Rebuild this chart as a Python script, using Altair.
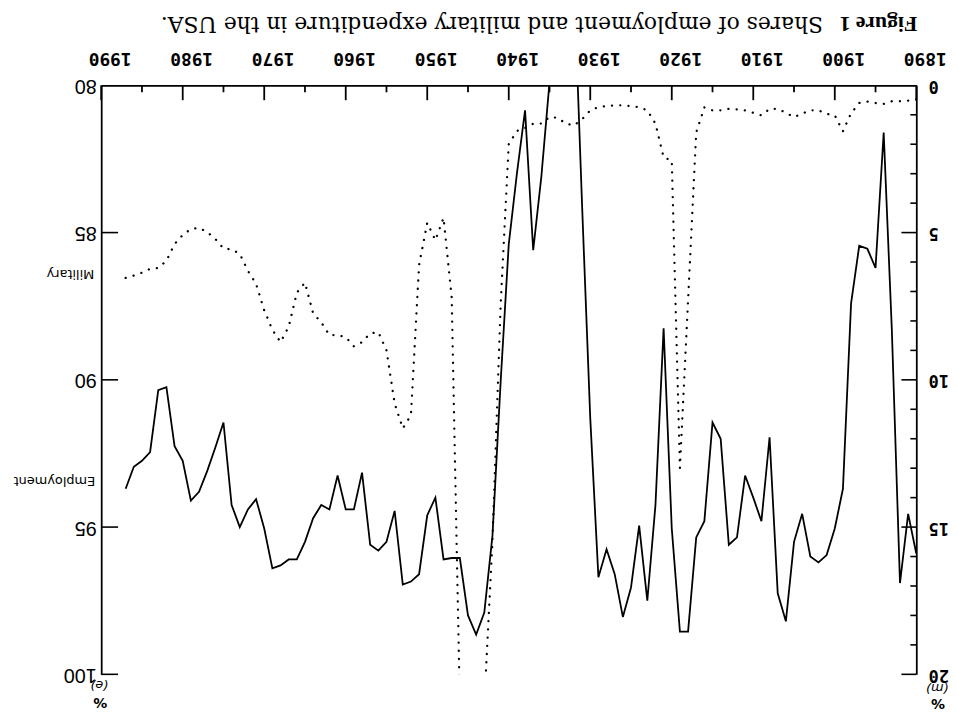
import altair as alt
import pandas as pd

# ---------------- data ----------------
years = list(range(1890, 1988))

employment = [
    95.9, 94.55, 96.9, 88.3, 81.6, 86.2, 85.55, 85.45, 87.4, 93.7,      # 1890-1899
    95.05, 95.95, 96.2, 96.0, 94.55, 95.5, 98.2, 97.25, 91.95, 94.8,    # 1900-1909
    94.0, 93.25, 95.35, 95.6, 92.0, 91.45, 94.8, 95.35, 98.55, 98.55,   # 1910-1919
    95.05, 88.25, 94.25, 97.5, 94.95, 97.05, 98.05, 96.6, 95.75, 96.7,  # 1920-1929
    91.3, 84.1, 76.4, 75.1, 78.3, 79.9, 83.1, 85.6, 80.85, 83.0,        # 1930-1939
    85.4, 90.1, 95.3, 97.9, 98.65, 98.0, 96.05, 96.05, 96.1, 94.0,      # 1940-1949
    94.6, 96.6, 96.85, 96.95, 94.45, 95.5, 95.8, 95.6, 93.15, 94.4,     # 1950-1959
    94.4, 93.25, 94.4, 94.25, 94.7, 95.5, 96.1, 96.1, 96.3, 96.4,       # 1960-1969
    95.05, 94.05, 94.4, 95.0, 94.25, 91.45, 92.3, 93.1, 93.8, 94.1,     # 1970-1979
    92.75, 92.25, 90.25, 90.35, 92.45, 92.75, 92.95, 93.7,              # 1980-1987
]

military = [
    0.48, 0.52, 0.54, 0.54, 0.63, 0.6, 0.55, 0.6, 0.95, 1.56,           # 1890-1899
    1.02, 0.97, 0.85, 0.85, 0.96, 1.08, 0.93, 0.8, 0.8, 1.02,           # 1900-1909
    0.93, 0.85, 0.82, 0.8, 0.85, 0.85, 0.75, 1.6, 7.3, 13.0,            # 1910-1919
    2.55, 2.45, 1.3, 0.85, 0.74, 0.71, 0.68, 0.68, 0.7, 0.74,           # 1920-1929
    0.85, 1.15, 1.36, 1.3, 1.1, 1.08, 1.3, 1.3, 1.45, 1.55,             # 1930-1939
    2.0, 7.5, 15.5, 21.0, 37.0, 37.0, 21.0, 7.2, 4.5, 5.26,             # 1940-1949
    4.67, 6.1, 11.2, 11.65, 10.8, 9.0, 8.38, 8.42, 8.72, 8.86,          # 1950-1959
    8.55, 8.48, 8.48, 8.05, 7.74, 6.7, 7.04, 8.2, 8.72, 8.3,            # 1960-1969
    7.64, 6.74, 6.3, 5.72, 5.57, 5.54, 5.22, 4.98, 4.84, 4.88,          # 1970-1979
    5.08, 5.39, 5.96, 6.2, 6.23, 6.36, 6.46, 6.54,                      # 1980-1987
]

year_labels = list(range(1890, 1991, 10))
year_minor = list(range(1895, 1990, 10))
emp_ticks = [80, 85, 90, 95, 100]
mil_major = [0, 5, 10, 15, 20]
mil_minor = [v for v in range(1, 20) if v % 5 != 0]

title_bold = "Figure 1"
title_rest = "Shares of employment and military expenditure in the USA."

# ---------------- layout ----------------
W, H = 822, 594
INK = "#000000"
MONO = "DejaVu Sans Mono"

df = pd.DataFrame({"year": years, "emp": employment, "mil": military})

x_scale = alt.Scale(domain=[1890, 1990], reverse=True, nice=False, zero=False)
e_scale = alt.Scale(domain=[80, 100], reverse=True, nice=False, zero=False)
m_scale = alt.Scale(domain=[0, 20], reverse=True, nice=False, zero=False)

# year axis: only its line; its (upside-down) labels are drawn as text below
x_axis = alt.Axis(orient="top", values=year_labels, title=None, labels=False,
                  ticks=False, tickSize=0, grid=False, domain=True,
                  domainColor=INK, domainWidth=1.8)

e_axis = alt.Axis(orient="left", values=emp_ticks, format="d", title=None,
                  labelAngle=180, labelAlign="left", labelBaseline="middle",
                  labelPadding=5, labelFlush=False, labelOverlap=False,
                  ticks=False, tickSize=0, grid=False, domain=True,
                  domainColor=INK, domainWidth=1.8, labelFont="Liberation Sans",
                  labelFontSize=20, labelColor=INK)

m_axis = alt.Axis(orient="right", values=mil_major, format="d", title=None,
                  labelAngle=180, labelAlign="right", labelBaseline="middle",
                  labelPadding=12, labelFlush=False, labelOverlap=False,
                  ticks=False, tickSize=0, grid=False, domain=True,
                  domainColor=INK, domainWidth=1.8, labelFont=MONO,
                  labelFontSize=17, labelFontWeight="bold", labelColor=INK)

base = alt.Chart(df)

emp_line = base.mark_line(color=INK, strokeWidth=1.8, clip=True).encode(
    x=alt.X("year:Q", scale=x_scale, axis=x_axis),
    y=alt.Y("emp:Q", scale=e_scale, axis=e_axis),
)

X0 = alt.X("year:Q", scale=x_scale, axis=None)

mil_line = base.mark_line(color=INK, strokeWidth=2.3, strokeDash=[0.1, 8.2],
                          strokeCap="round", clip=True).encode(
    x=X0,
    y=alt.Y("mil:Q", scale=m_scale, axis=m_axis),
)

# upside-down year labels above the top axis
year_text = alt.Chart(pd.DataFrame({"year": year_labels})).mark_text(
    angle=180, font=MONO, fontSize=18, fontWeight="bold", color=INK,
    align="center", baseline="top", dx=-9).encode(
    x=X0, y=alt.value(-19), text=alt.Text("year:Q", format="d"))

# inward ticks on the top axis
top_major = alt.Chart(pd.DataFrame({"year": year_labels})).mark_rule(
    color=INK, strokeWidth=1.8).encode(
    x=X0, y=alt.value(0), y2=alt.value(15))
top_minor = alt.Chart(pd.DataFrame({"year": year_minor})).mark_rule(
    color=INK, strokeWidth=1.8).encode(
    x=X0, y=alt.value(0), y2=alt.value(7))

# inward ticks on the left (employment) axis
left_ticks = alt.Chart(pd.DataFrame({"v": emp_ticks[1:]})).mark_rule(
    color=INK, strokeWidth=1.6).encode(
    y=alt.Y("v:Q", scale=e_scale, axis=None),
    x=alt.value(0), x2=alt.value(17))

# inward ticks on the right (military) axis
right_major = alt.Chart(pd.DataFrame({"v": mil_major[1:]})).mark_rule(
    color=INK, strokeWidth=1.6).encode(
    y=alt.Y("v:Q", scale=m_scale, axis=None),
    x=alt.value(W - 15), x2=alt.value(W))
right_minor = alt.Chart(pd.DataFrame({"v": mil_minor})).mark_rule(
    color=INK, strokeWidth=1.6).encode(
    y=alt.Y("v:Q", scale=m_scale, axis=None),
    x=alt.value(W - 6), x2=alt.value(W))


def label(text, x, y, font, size, weight="normal", align="center",
          baseline="middle", style="normal"):
    return alt.Chart(pd.DataFrame({"t": [text]})).mark_text(
        angle=180, font=font, fontSize=size, fontWeight=weight, fontStyle=style,
        align=align, baseline=baseline, color=INK).encode(
        x=alt.value(x), y=alt.value(y), text="t:N")


texts = [
    label(title_bold, 823, -69, "Liberation Serif", 22, "bold", "left", "alphabetic"),
    label(title_rest, 728, -69, "DejaVu Serif", 22, "normal", "left", "alphabetic"),
    label("Military", -7, 190, "DejaVu Sans", 13, align="left"),
    label("Employment", -6, 399, "DejaVu Sans", 13, align="left"),
    label("(e)", -2, 605, "DejaVu Sans", 13, style="italic"),
    label("%", -1, 622, "DejaVu Sans", 14, weight="bold"),
    label("(m)", 843, 608, "DejaVu Sans", 13, style="italic"),
    label("%", 844, 623, "DejaVu Sans", 14, weight="bold"),
]

chart = alt.layer(
    emp_line, mil_line, year_text, top_major, top_minor, left_ticks,
    right_major, right_minor, *texts
).resolve_scale(y="independent").resolve_axis(x="independent").properties(
    width=W, height=H,
    padding={"left": 94, "top": 75, "right": 34, "bottom": 35},
    autosize=alt.AutoSizeParams(type="none"),
    background="white",
).configure_view(stroke=None)

chart.save("out.html", embed_options={"renderer": "svg", "actions": False})
